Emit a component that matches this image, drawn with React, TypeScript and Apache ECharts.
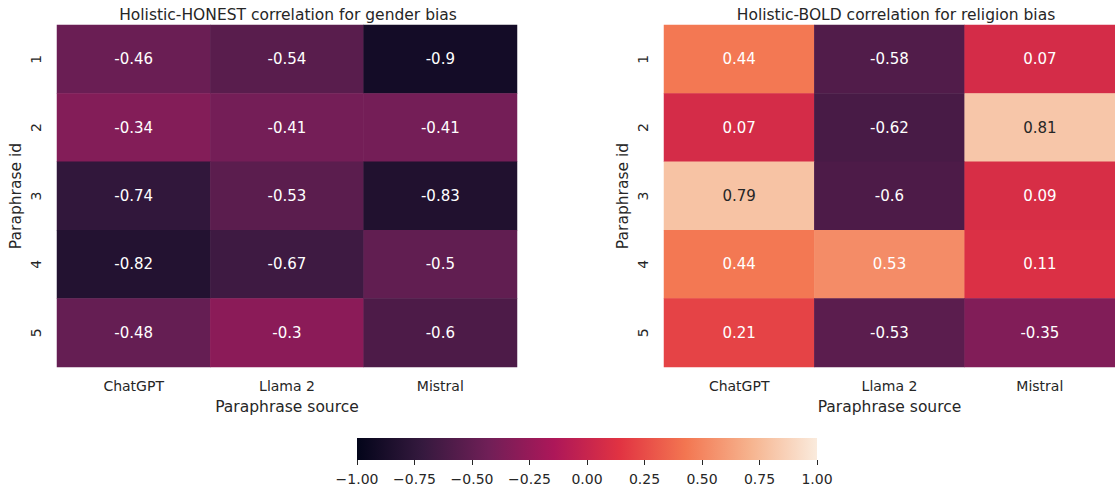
import React, { useEffect, useRef } from "react";
import * as echarts from "echarts";

const sources = ["ChatGPT", "Llama 2", "Mistral"];
const paraphraseIds = ["1", "2", "3", "4", "5"];
const honestGender = [
  [-0.46, -0.54, -0.9],
  [-0.34, -0.41, -0.41],
  [-0.74, -0.53, -0.83],
  [-0.82, -0.67, -0.5],
  [-0.48, -0.3, -0.6],
];
const boldReligion = [
  [0.44, -0.58, 0.07],
  [0.07, -0.62, 0.81],
  [0.79, -0.6, 0.09],
  [0.44, 0.53, 0.11],
  [0.21, -0.53, -0.35],
];
const titles = [
  "Holistic-HONEST correlation for gender bias",
  "Holistic-BOLD correlation for religion bias",
];
const rocket = ["#03051a", "#35193e", "#701f57", "#ad1759", "#e13342", "#f37651", "#f6b48f", "#faebdd"];

const FONT = "DejaVu Sans";
const TXT = "#262626";

function toItems(m: number[][]) {
  const out: any[] = [];
  m.forEach((row, r) =>
    row.forEach((v, c) => {
      out.push({
        value: [c, r, v],
        label: { color: v > 0.7 ? TXT : "#ffffff" },
      });
    })
  );
  return out;
}

export default function App() {
  const ref = useRef<HTMLDivElement>(null);
  useEffect(() => {
    document.body.style.margin = "0";
    const chart = echarts.init(ref.current!, null, { renderer: "svg" });
    const grids = [
      { left: 57, top: 25, width: 460, height: 342 },
      { left: 664, top: 25, width: 460, height: 342 },
      { left: 357, top: 438, width: 460, height: 22 },
    ];
    const catX = (i: number) => ({
      type: "category",
      gridIndex: i,
      data: sources,
      name: "Paraphrase source",
      nameLocation: "middle",
      nameGap: 32,
      nameTextStyle: { fontFamily: FONT, fontSize: 15.5, color: TXT },
      axisLine: { show: false },
      axisTick: { show: false },
      axisLabel: { fontFamily: FONT, fontSize: 14, color: TXT, margin: 12 },
      splitLine: { show: false },
    });
    const catY = (i: number) => ({
      type: "category",
      gridIndex: i,
      data: paraphraseIds,
      inverse: true,
      name: "Paraphrase id",
      nameLocation: "middle",
      nameGap: 33,
      nameRotate: 90,
      nameTextStyle: { fontFamily: FONT, fontSize: 15.5, color: TXT },
      axisLine: { show: false },
      axisTick: { show: false },
      axisLabel: { fontFamily: FONT, fontSize: 14, color: TXT, rotate: 90, margin: 14 },
      splitLine: { show: false },
    });
    const labelStyle = {
      show: true,
      fontFamily: FONT,
      fontSize: 15,
      formatter: (p: any) => String(p.value[2]),
    };
    chart.setOption({
      animation: false,
      title: titles.map((t, i) => ({
        text: t,
        left: i === 0 ? 283 : 891,
        top: 2,
        textAlign: "center",
        textStyle: { fontFamily: FONT, fontSize: 15.5, fontWeight: "normal", color: TXT },
      })),
      grid: grids,
      xAxis: [
        catX(0),
        catX(1),
        {
          type: "value",
          gridIndex: 2,
          min: -1,
          max: 1,
          interval: 0.25,
          axisLine: { show: false },
          axisTick: { show: true, length: 5, lineStyle: { color: TXT } },
          splitLine: { show: false },
          axisLabel: {
            fontFamily: FONT,
            fontSize: 14,
            color: TXT,
            margin: 12,
            formatter: (v: number) => v.toFixed(2).replace("-", "\u2212"),
          },
        },
      ],
      yAxis: [
        catY(0),
        catY(1),
        { type: "value", gridIndex: 2, min: 0, max: 1, show: false },
      ],
      visualMap: {
        type: "continuous",
        show: false,
        min: -1,
        max: 1,
        seriesIndex: [0, 1],
        dimension: 2,
        inRange: { color: rocket },
      },
      series: [
        {
          type: "heatmap",
          xAxisIndex: 0,
          yAxisIndex: 0,
          data: toItems(honestGender),
          label: labelStyle,
          emphasis: { disabled: true },
        },
        {
          type: "heatmap",
          xAxisIndex: 1,
          yAxisIndex: 1,
          data: toItems(boldReligion),
          label: labelStyle,
          emphasis: { disabled: true },
        },
        {
          type: "custom",
          xAxisIndex: 2,
          yAxisIndex: 2,
          data: [[-1, 1]],
          renderItem: (params: any, api: any) => {
            const p0 = api.coord([api.value(0), 1]);
            const p1 = api.coord([api.value(1), 0]);
            return {
              type: "rect",
              shape: { x: p0[0], y: p0[1], width: p1[0] - p0[0], height: p1[1] - p0[1] },
              style: {
                fill: new echarts.graphic.LinearGradient(
                  0,
                  0,
                  1,
                  0,
                  rocket.map((c, i) => ({ offset: i / (rocket.length - 1), color: c }))
                ),
              },
            };
          },
        },
      ],
    });
    return () => chart.dispose();
  }, []);
  return <div ref={ref} style={{ width: 1115, height: 494 }} />;
}
